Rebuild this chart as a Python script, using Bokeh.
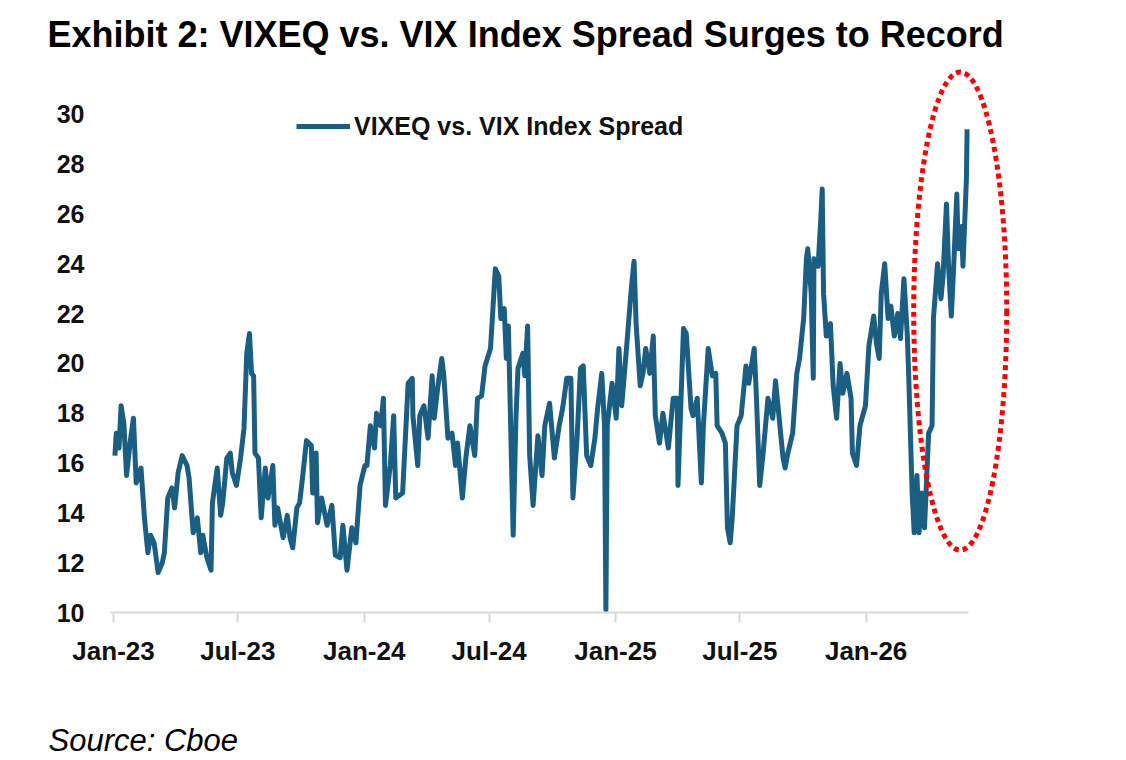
import pandas as pd
from bokeh.plotting import figure
from bokeh.models import (FixedTicker, DatetimeTickFormatter, Legend, LegendItem,
                          Title, Range1d)
from bokeh.embed import file_html
from bokeh.resources import INLINE

# VIXEQ minus VIX (one line per month)
dates_2023 = [
    "2023-01-03", "2023-01-05", "2023-01-09", "2023-01-12", "2023-01-16", "2023-01-20", "2023-01-25", "2023-01-30",
    "2023-02-03", "2023-02-10", "2023-02-15", "2023-02-20", "2023-02-24",
    "2023-03-01", "2023-03-07", "2023-03-13", "2023-03-16", "2023-03-21", "2023-03-27", "2023-03-31",
    "2023-04-05", "2023-04-11", "2023-04-18", "2023-04-21", "2023-04-27",
    "2023-05-03", "2023-05-08", "2023-05-11", "2023-05-17", "2023-05-23", "2023-05-25",
    "2023-06-01", "2023-06-06", "2023-06-09", "2023-06-15", "2023-06-20", "2023-06-23", "2023-06-29",
    "2023-07-05", "2023-07-10", "2023-07-14", "2023-07-18", "2023-07-21", "2023-07-24", "2023-07-26", "2023-07-31",
    "2023-08-04", "2023-08-10", "2023-08-14", "2023-08-21", "2023-08-24", "2023-08-28",
    "2023-09-05", "2023-09-11", "2023-09-15", "2023-09-19", "2023-09-25", "2023-09-29",
    "2023-10-04", "2023-10-09", "2023-10-16", "2023-10-18", "2023-10-23", "2023-10-25", "2023-10-31",
    "2023-11-08", "2023-11-15", "2023-11-20", "2023-11-27",
    "2023-12-01", "2023-12-07", "2023-12-14", "2023-12-20", "2023-12-26",
]
spread_2023 = [
    16.3, 17.2, 16.6, 18.3, 17.6, 15.5, 16.8, 17.8,
    15.2, 15.8, 13.8, 12.4, 13.1,
    12.8, 11.6, 12.0, 12.4, 14.6, 15.0, 14.2,
    15.6, 16.3, 15.9, 15.4, 13.2,
    13.8, 12.4, 13.1, 12.2, 11.7, 14.4,
    15.8, 13.9, 14.4, 16.2, 16.4, 15.6, 15.1,
    16.2, 17.4, 20.4, 21.2, 19.6, 19.5, 16.4, 16.2,
    13.8, 15.8, 14.6, 15.9, 13.5, 14.2,
    13.0, 13.9, 13.0, 12.6, 14.2, 14.4,
    15.6, 16.9, 16.7, 14.8, 16.4, 13.6, 14.6,
    13.5, 14.3, 12.3, 12.2,
    13.5, 11.7, 13.4, 12.8, 15.1,
]

dates_2024 = [
    "2024-01-02", "2024-01-05", "2024-01-10", "2024-01-16", "2024-01-19", "2024-01-25", "2024-01-29",
    "2024-02-01", "2024-02-08", "2024-02-13", "2024-02-16", "2024-02-26",
    "2024-03-05", "2024-03-11", "2024-03-12", "2024-03-19", "2024-03-22", "2024-03-28",
    "2024-04-03", "2024-04-09", "2024-04-12", "2024-04-17", "2024-04-23", "2024-04-26",
    "2024-05-02", "2024-05-08", "2024-05-13", "2024-05-16", "2024-05-23", "2024-05-28",
    "2024-06-03", "2024-06-10", "2024-06-14", "2024-06-20", "2024-06-25",
    "2024-07-03", "2024-07-10", "2024-07-15", "2024-07-18", "2024-07-23", "2024-07-26", "2024-07-29",
    "2024-08-05", "2024-08-09", "2024-08-12", "2024-08-19", "2024-08-22", "2024-08-26", "2024-08-29",
    "2024-09-03", "2024-09-10", "2024-09-16", "2024-09-20", "2024-09-27",
    "2024-10-04", "2024-10-11", "2024-10-16", "2024-10-22", "2024-10-28", "2024-10-31",
    "2024-11-06", "2024-11-11", "2024-11-15", "2024-11-20", "2024-11-26",
    "2024-12-02", "2024-12-06", "2024-12-12", "2024-12-16", "2024-12-18", "2024-12-20", "2024-12-27",
]
spread_2024 = [
    15.9, 15.9, 17.5, 16.6, 18.0, 17.5, 18.6,
    14.3, 15.9, 17.9, 14.6, 14.8,
    19.2, 19.4, 17.9, 15.9, 17.9, 18.3,
    17.0, 19.5, 17.8, 19.0, 20.2, 19.5,
    17.0, 17.2, 15.9, 16.8, 14.6, 16.2,
    17.5, 16.3, 18.6, 18.7, 19.9,
    20.6, 23.8, 23.5, 21.8, 22.2, 20.2, 21.5,
    13.1, 17.8, 19.8, 20.4, 19.5, 21.5, 16.3,
    14.3, 17.1, 15.5, 17.5, 18.4,
    16.2, 17.5, 18.2, 19.4, 19.4, 14.6,
    17.0, 19.8, 19.9, 16.3, 15.9,
    17.0, 18.2, 19.6, 17.5, 10.1, 17.5, 19.2,
]

dates_2025 = [
    "2025-01-02", "2025-01-06", "2025-01-10", "2025-01-17", "2025-01-24", "2025-01-28", "2025-01-31",
    "2025-02-06", "2025-02-10", "2025-02-14", "2025-02-20", "2025-02-25", "2025-02-28",
    "2025-03-06", "2025-03-11", "2025-03-19", "2025-03-26",
    "2025-04-01", "2025-04-02", "2025-04-10", "2025-04-14", "2025-04-21", "2025-04-24", "2025-04-30",
    "2025-05-06", "2025-05-09", "2025-05-16", "2025-05-22", "2025-05-27", "2025-05-29",
    "2025-06-05", "2025-06-10", "2025-06-13", "2025-06-17", "2025-06-20", "2025-06-27",
    "2025-07-03", "2025-07-10", "2025-07-14", "2025-07-22", "2025-07-25", "2025-07-30",
    "2025-08-04", "2025-08-11", "2025-08-18", "2025-08-22",
    "2025-09-02", "2025-09-05", "2025-09-09", "2025-09-16", "2025-09-22", "2025-09-26",
    "2025-10-02", "2025-10-06", "2025-10-08", "2025-10-13", "2025-10-16", "2025-10-17", "2025-10-23",
    "2025-10-27", "2025-10-29", "2025-10-31",
    "2025-11-04", "2025-11-10", "2025-11-14", "2025-11-19", "2025-11-24", "2025-11-28",
    "2025-12-04", "2025-12-10", "2025-12-12", "2025-12-18", "2025-12-23", "2025-12-31",
]
spread_2025 = [
    17.8, 20.6, 18.3, 20.6, 23.0, 24.1, 21.6,
    19.1, 19.6, 20.6, 19.6, 21.1, 17.9,
    16.8, 18.0, 16.6, 18.6,
    18.6, 15.1, 21.4, 21.2, 18.2, 17.9, 18.6,
    15.2, 17.5, 20.6, 19.5, 19.6, 17.5,
    17.2, 16.8, 13.4, 12.8, 13.8, 17.5,
    17.9, 19.9, 19.2, 20.6, 18.8, 15.1,
    16.4, 18.6, 17.8, 19.3,
    16.2, 15.8, 16.4, 17.2, 19.6, 20.2,
    21.8, 24.2, 24.6, 22.8, 19.4, 24.2, 23.9,
    25.8, 27.0, 22.8,
    21.1, 21.6, 19.1, 17.8, 20.0, 18.8,
    19.6, 18.6, 16.4, 15.9, 17.5, 18.3,
]

dates_2026 = [
    "2026-01-05", "2026-01-12", "2026-01-16", "2026-01-20", "2026-01-23", "2026-01-28",
    "2026-02-02", "2026-02-06", "2026-02-11", "2026-02-16", "2026-02-20", "2026-02-25",
    "2026-03-02", "2026-03-04", "2026-03-09", "2026-03-12", "2026-03-16", "2026-03-19", "2026-03-23", "2026-03-27",
    "2026-04-02", "2026-04-07", "2026-04-09", "2026-04-15", "2026-04-20", "2026-04-23", "2026-04-28",
    "2026-05-01", "2026-05-05", "2026-05-08", "2026-05-13", "2026-05-15", "2026-05-20", "2026-05-22",
    "2026-05-27", "2026-05-28",
]
spread_2026 = [
    20.7, 21.9, 20.8, 20.2, 22.8, 24.0,
    21.8, 22.3, 21.1, 22.0, 21.0, 23.4,
    21.1, 19.5, 14.8, 13.2, 15.5, 13.2, 14.8, 13.4,
    17.2, 17.5, 21.8, 24.0, 22.6, 23.5, 26.4,
    23.9, 21.9, 23.6, 26.8, 24.6, 25.5, 23.9,
    27.4, 29.4,
]

tick_dates = ["2023-01-01", "2023-07-01", "2024-01-01", "2024-07-01",
              "2025-01-01", "2025-07-01", "2026-01-01"]
y_ticks = [10, 12, 14, 16, 18, 20, 22, 24, 26, 28, 30]

# the record stretch circled in red
highlight_date = "2026-05-18"
highlight_level = 22.1

series_name = "VIXEQ vs. VIX Index Spread"
title_text = "Exhibit 2: VIXEQ vs. VIX Index Spread Surges to Record"
source_text = "Source: Cboe"

BLUE = "#1a5e83"
GREY = "#d9d9d9"
INK = "#111111"

dates = pd.to_datetime(dates_2023 + dates_2024 + dates_2025 + dates_2026)
spread = spread_2023 + spread_2024 + spread_2025 + spread_2026


def to_ms(s):
    return float(pd.Timestamp(s).value // 10**6)


p = figure(width=1110, height=758, x_axis_type="datetime",
           output_backend="svg", toolbar_location=None,
           x_range=Range1d(to_ms("2022-12-27 14:00"), to_ms("2026-08-06 12:00")),
           y_range=Range1d(10, 32.16),
           min_border_left=110, min_border_right=95,
           min_border_top=60, min_border_bottom=144)
p.background_fill_color = "white"
p.border_fill_color = "white"
p.outline_line_color = None
p.xgrid.grid_line_color = None
p.ygrid.grid_line_color = None

# title above, source note below
p.title.text = title_text
p.title.align = "left"
p.title.offset = -63
p.title.standoff = 11
p.title.text_font = "Liberation Sans"
p.title.text_font_style = "bold"
p.title.text_font_size = "36px"
p.title.text_color = "black"

p.add_layout(Title(text=source_text, align="left", offset=-62, standoff=2,
                   text_font="Liberation Sans", text_font_style="italic",
                   text_font_size="31px", text_color="black"), "below")

r = p.line(dates, spread, line_color=BLUE, line_width=5, line_join="round")

p.ellipse(x=[to_ms(highlight_date)], y=[highlight_level], width=93, height=478,
          width_units="screen", height_units="screen",
          fill_color=None, line_color="#ff0000", line_width=5, line_dash="5 4")

# x axis
p.xaxis.ticker = FixedTicker(ticks=[to_ms(d) for d in tick_dates])
p.xaxis.formatter = DatetimeTickFormatter(days="%b-%y", months="%b-%y", years="%b-%y")
p.xaxis.bounds = (to_ms("2022-12-28"), to_ms("2026-05-30"))
p.xaxis.axis_line_color = GREY
p.xaxis.axis_line_width = 2
p.xaxis.major_tick_line_color = GREY
p.xaxis.major_tick_line_width = 2
p.xaxis.major_tick_out = 10
p.xaxis.major_tick_in = 0
p.xaxis.minor_tick_line_color = None
p.xaxis.major_label_standoff = 13
p.xaxis.major_label_text_font = "Liberation Sans"
p.xaxis.major_label_text_font_style = "bold"
p.xaxis.major_label_text_font_size = "26px"
p.xaxis.major_label_text_color = INK
# blank axis label only keeps the source note clear of the tick labels
p.xaxis.axis_label = " "
p.xaxis.axis_label_text_font_size = "1px"
p.xaxis.axis_label_standoff = 47

# y axis
p.yaxis.ticker = FixedTicker(ticks=y_ticks)
p.yaxis.axis_line_color = None
p.yaxis.major_tick_line_color = None
p.yaxis.minor_tick_line_color = None
p.yaxis.major_tick_out = 0
p.yaxis.major_tick_in = 0
p.yaxis.major_label_standoff = 26
p.yaxis.major_label_text_font = "Liberation Sans"
p.yaxis.major_label_text_font_style = "bold"
p.yaxis.major_label_text_font_size = "25px"
p.yaxis.major_label_text_color = INK

legend = Legend(items=[LegendItem(label=series_name, renderers=[r])],
                location=(186, 471), orientation="vertical",
                background_fill_alpha=0, border_line_alpha=0,
                padding=0, margin=0, spacing=0,
                glyph_width=54, glyph_height=30, label_height=30,
                label_standoff=4,
                label_text_font="Liberation Sans",
                label_text_font_style="bold",
                label_text_font_size="25px",
                label_text_color=INK)
p.add_layout(legend)

open("out.html", "w").write(file_html(p, INLINE))
